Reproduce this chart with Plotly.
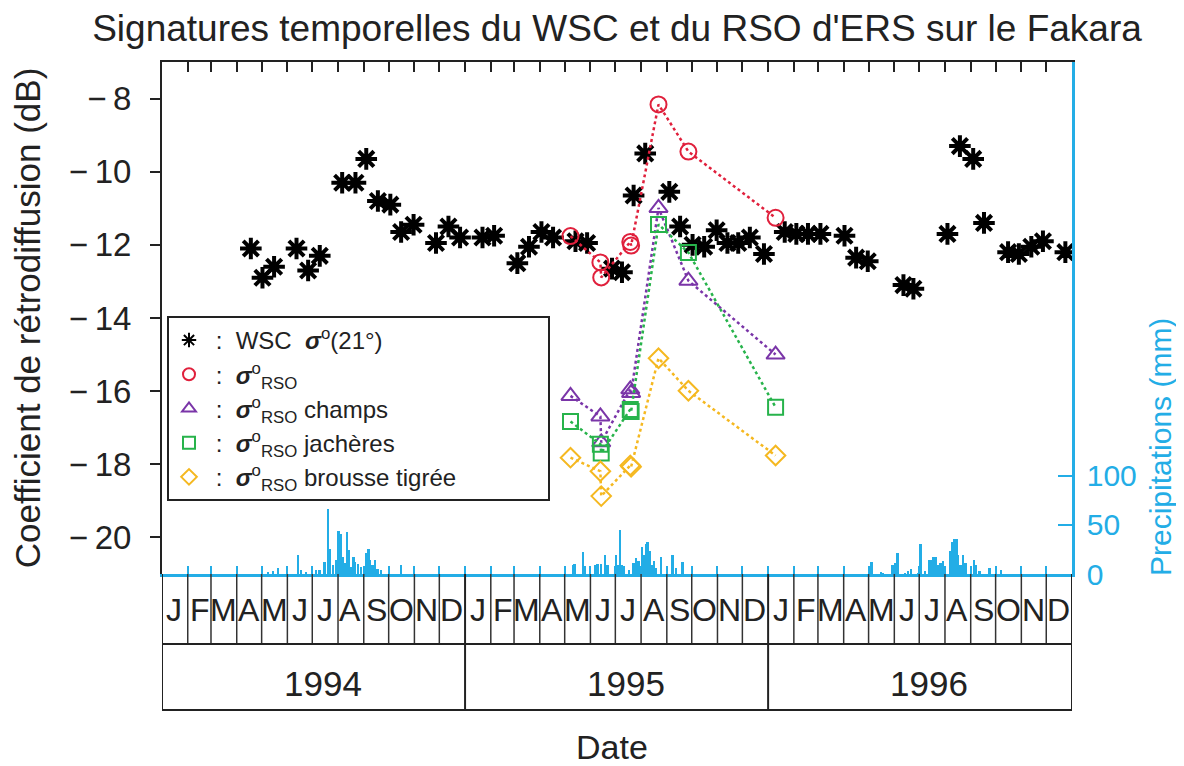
import pandas as pd
import plotly.graph_objects as go

# ---------------- data ----------------
wsc_dates = ["1994-04-18", "1994-05-02", "1994-05-16", "1994-06-12", "1994-06-26", "1994-07-10",
             "1994-08-06", "1994-08-22", "1994-09-04", "1994-09-18", "1994-10-03", "1994-10-16",
             "1994-10-31", "1994-11-27", "1994-12-12", "1994-12-26", "1995-01-22", "1995-02-05",
             "1995-03-05", "1995-03-19", "1995-04-03", "1995-04-17", "1995-05-14", "1995-05-28",
             "1995-06-27", "1995-07-09", "1995-07-23", "1995-08-06", "1995-09-04", "1995-09-17",
             "1995-10-02", "1995-10-16", "1995-10-31", "1995-11-13", "1995-11-26", "1995-12-10",
             "1995-12-27", "1996-01-21", "1996-02-04", "1996-02-18", "1996-03-04", "1996-04-02",
             "1996-04-16", "1996-04-30", "1996-06-12", "1996-06-24", "1996-08-04", "1996-08-19",
             "1996-09-04", "1996-09-17", "1996-10-16", "1996-10-29", "1996-11-13", "1996-11-27",
             "1996-12-24"]
wsc_values = [-12.10, -12.90, -12.60, -12.10, -12.70, -12.30,
              -10.30, -10.30, -9.65, -10.80, -10.90, -11.65,
              -11.45, -11.95, -11.50, -11.80, -11.80, -11.75,
              -12.50, -12.05, -11.65, -11.80, -11.90, -11.95,
              -12.65, -12.75, -10.65, -9.50, -10.55, -11.50,
              -12.00, -12.05, -11.60, -11.95, -11.95, -11.80,
              -12.25, -11.65, -11.70, -11.70, -11.70, -11.75,
              -12.35, -12.45, -13.10, -13.20, -11.70, -9.30,
              -9.65, -11.40, -12.20, -12.25, -12.05, -11.90,
              -12.20]

rso_dates = ["1995-05-08", "1995-06-13", "1995-06-14", "1995-07-19", "1995-07-20",
             "1995-08-22", "1995-09-27", "1996-01-10"]
rso_all = [-11.76, -12.48, -12.89, -11.92, -12.02, -8.16, -9.45, -11.26]
rso_champs = [-16.13, -16.69, -17.40, -15.95, -16.05, -10.99, -12.98, -15.00]
rso_jacheres = [-16.83, -17.45, -17.69, -16.50, -16.56, -11.44, -12.21, -16.44]
rso_brousse = [-17.82, -18.19, -18.87, -18.03, -18.07, -15.10, -15.99, -17.76]

rain_dates = ["1994-05-09", "1994-05-15", "1994-05-21", "1994-06-14", "1994-06-18", "1994-06-24",
              "1994-07-06", "1994-07-10", "1994-07-16", "1994-07-20", "1994-07-23", "1994-07-26",
              "1994-07-30", "1994-08-02", "1994-08-05", "1994-08-07", "1994-08-09", "1994-08-12",
              "1994-08-14", "1994-08-17", "1994-08-20", "1994-08-22", "1994-08-25", "1994-08-29",
              "1994-09-04", "1994-09-07", "1994-09-09", "1994-09-12", "1994-09-15", "1994-09-18",
              "1994-09-22", "1994-10-16",
              "1995-05-11", "1995-05-13", "1995-05-23", "1995-05-26", "1995-06-07", "1995-06-10",
              "1995-06-14", "1995-06-19", "1995-06-22", "1995-07-02", "1995-07-04", "1995-07-07",
              "1995-07-09", "1995-07-12", "1995-07-18", "1995-07-23", "1995-07-26", "1995-07-29",
              "1995-08-02", "1995-08-05", "1995-08-07", "1995-08-09", "1995-08-12", "1995-08-14",
              "1995-08-17", "1995-08-19", "1995-08-25", "1995-09-08", "1995-09-12", "1995-09-20",
              "1996-05-05", "1996-05-16", "1996-05-19", "1996-05-30", "1996-06-02", "1996-06-05",
              "1996-06-14", "1996-06-18", "1996-06-21", "1996-06-30", "1996-07-03", "1996-07-08",
              "1996-07-13", "1996-07-15", "1996-07-18", "1996-07-21", "1996-07-24", "1996-07-27",
              "1996-07-30", "1996-08-07", "1996-08-10", "1996-08-12", "1996-08-15", "1996-08-17",
              "1996-08-20", "1996-08-23", "1996-08-26", "1996-09-05", "1996-09-08", "1996-09-12",
              "1996-09-24", "1996-10-08"]
rain_mm = [2, 3, 6, 19, 4, 2,
           4, 4, 12, 66, 26, 9,
           14, 44, 41, 17, 11, 43,
           24, 7, 17, 12, 10, 7,
           21, 26, 14, 9, 14, 5,
           4, 9,
           9, 10, 22, 8, 9, 10,
           10, 19, 9, 19, 9, 45,
           9, 8, 4, 11, 16, 13,
           28, 19, 31, 33, 23, 9,
           13, 6, 17, 19, 6, 12,
           12, 2, 1, 9, 11, 21,
           1, 3, 5, 1, 31, 3,
           14, 14, 17, 17, 9, 11,
           13, 23, 33, 36, 36, 19,
           9, 19, 11, 14, 9, 3,
           6, 4]

month_letters = ["J", "F", "M", "A", "M", "J", "J", "A", "S", "O", "N", "D"]
years = ["1994", "1995", "1996"]
precip_ticks = [0, 50, 100]
db_ticks = [-20, -18, -16, -14, -12, -10, -8]
db_ticktext = ["\u2212\u2009" + str(abs(v)) for v in db_ticks]

# ---------------- styling ----------------
CYAN = "#23ade6"
RED = "#e0203c"
PURPLE = "#7a35a8"
GREEN = "#27b34b"
ORANGE = "#f5b820"
INK = "#222222"
FONT = "Liberation Sans"
PAD = "\u00a0" * 13

fig = go.Figure()

# precipitation bars
fig.add_trace(go.Bar(x=rain_dates, y=rain_mm, yaxis="y2", width=2.2 * 86400000,
                     marker=dict(color=CYAN, line=dict(width=0)), showlegend=False))

# WSC
fig.add_trace(go.Scatter(x=wsc_dates, y=wsc_values, mode="markers", showlegend=False,
                         marker=dict(symbol="asterisk-open", size=18, color="black",
                                     line=dict(width=4, color="black"))))

SIG = "<b><i>σ</i></b><sup>o</sup><sub>RSO</sub>"
series = [
    (rso_all, RED, "circle-open", 16, SIG),
    (rso_champs, PURPLE, "triangle-up-open", 16, SIG + " champs"),
    (rso_jacheres, GREEN, "square-open", 15, SIG + " jachères"),
    (rso_brousse, ORANGE, "diamond-open", 15, SIG + " brousse tigrée" + PAD),
]
for vals, col, sym, sz, _ in series:
    fig.add_trace(go.Scatter(x=rso_dates, y=vals, mode="lines+markers", showlegend=False,
                             line=dict(color=col, width=2.5, dash="dot"),
                             marker=dict(symbol=sym, size=sz, color=col, line=dict(width=2, color=col))))

# legend-only entries (markers only, like the original legend)
fig.add_trace(go.Scatter(x=[None], y=[None], mode="markers",
                         name=" :  WSC  <b><i>σ</i></b><sup>o</sup>(21°)",
                         marker=dict(symbol="asterisk-open", size=13, color="black",
                                     line=dict(width=3, color="black"))))
for vals, col, sym, sz, label in series:
    fig.add_trace(go.Scatter(x=[None], y=[None], mode="markers", name=" :  " + label,
                             marker=dict(symbol=sym, size=13, color=col, line=dict(width=2, color=col))))

# ---------------- table below the axis ----------------
x_start, x_end = "1994-01-01", "1997-01-01"
month_starts = pd.date_range(x_start, x_end, freq="MS")
year_starts = pd.date_range(x_start, x_end, freq="YS")

ROW1 = -0.1367
ROW2 = -0.2656
shapes = []
for b in month_starts:
    if b.month != 1:
        shapes.append(dict(type="line", xref="x", yref="paper", x0=b, x1=b, y0=ROW1, y1=0,
                           line=dict(color="#333333", width=1.5)))
for b in year_starts:
    shapes.append(dict(type="line", xref="x", yref="paper", x0=b, x1=b, y0=ROW2, y1=0,
                       line=dict(color=INK, width=2)))
for yy in (ROW1, ROW2):
    shapes.append(dict(type="line", xref="x", yref="paper", x0=x_start, x1=x_end, y0=yy, y1=yy,
                       line=dict(color=INK, width=2)))

annotations = []
for b in month_starts[:-1]:
    annotations.append(dict(x=b + pd.Timedelta(days=15), y=-0.0703, xref="x", yref="paper",
                            text=month_letters[b.month - 1], showarrow=False,
                            font=dict(family=FONT, size=32, color=INK),
                            xanchor="center", yanchor="middle"))
for i, b in enumerate(year_starts[:-1]):
    annotations.append(dict(x=b + pd.Timedelta(days=194), y=-0.213, xref="x", yref="paper",
                            text=years[i], showarrow=False,
                            font=dict(family=FONT, size=35, color=INK),
                            xanchor="center", yanchor="middle"))
annotations.append(dict(x=0.495, y=-0.338, xref="paper", yref="paper", text="Date", showarrow=False,
                        font=dict(family=FONT, size=34, color=INK),
                        xanchor="center", yanchor="middle"))
annotations.append(dict(x=1.0967, y=0.248, xref="paper", yref="paper", text="Precipitations (mm)",
                        showarrow=False, textangle=-90,
                        font=dict(family=FONT, size=30, color=CYAN),
                        xanchor="center", yanchor="middle"))

fig.update_layout(
    width=1176, height=758,
    margin=dict(l=154, r=112, t=54, b=192),
    paper_bgcolor="white", plot_bgcolor="white",
    title=dict(text="Signatures temporelles du WSC et du RSO d'ERS sur le Fakara",
               x=0.5, xref="paper", xanchor="center", y=1 - 20 / 758, yref="container",
               yanchor="middle", font=dict(family=FONT, size=37, color=INK)),
    xaxis=dict(type="date", range=[x_start, x_end], tick0=x_start, dtick="M1",
               ticks="inside", ticklen=8, tickwidth=2, tickcolor=CYAN,
               showticklabels=False, showgrid=False, zeroline=False,
               showline=True, linecolor=CYAN, linewidth=2.5),
    xaxis2=dict(type="date", range=[x_start, x_end], overlaying="x", side="top",
                tick0=x_start, dtick="M1", ticks="inside", ticklen=10, tickwidth=2,
                tickcolor=INK, showticklabels=False, showgrid=False, zeroline=False,
                showline=True, linecolor=INK, linewidth=2),
    yaxis=dict(range=[-21, -7], tickvals=db_ticks, ticktext=db_ticktext, ticks="outside",
               ticklen=10, tickwidth=2, ticklabelstandoff=12,
               tickcolor=INK, showline=True, linecolor=INK, linewidth=2,
               showgrid=False, zeroline=False,
               tickfont=dict(family=FONT, size=33, color=INK),
               title=dict(text="Coefficient de rétrodiffusion (dB)", standoff=18,
                          font=dict(family=FONT, size=35, color=INK))),
    yaxis2=dict(range=[0, 522], overlaying="y", side="right", tickvals=precip_ticks,
                ticks="inside", ticklen=14, tickwidth=2, tickcolor=CYAN,
                showline=True, linecolor=CYAN, linewidth=2.5, showgrid=False, zeroline=False,
                ticklabelstandoff=6,
                tickfont=dict(family=FONT, size=30, color=CYAN)),
    legend=dict(x=0.0055, y=0.504, xanchor="left", yanchor="top",
                bordercolor=INK, borderwidth=2, bgcolor="white",
                font=dict(family=FONT, size=24, color=INK),
                tracegroupgap=0, itemsizing="constant"),
    shapes=shapes,
    annotations=annotations,
    bargap=0,
)

# dummy trace so the top axis is drawn
fig.add_trace(go.Scatter(x=[x_start], y=[None], xaxis="x2", mode="markers", showlegend=False,
                         hoverinfo="skip"))

fig.write_html("out.html")
